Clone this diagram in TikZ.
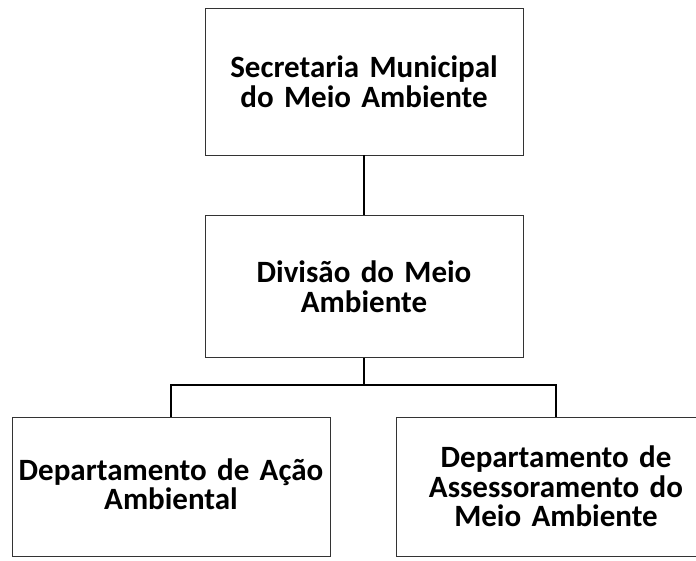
\documentclass[tikz,border=0pt]{standalone}
\usepackage{fontspec}
\setmainfont{Carlito}[WordSpace=0.75]
\usetikzlibrary{positioning}

\begin{document}
\begin{tikzpicture}[x=1pt, y=1pt,
    orgbox/.style={draw=black!80, line width=0.8pt, align=center,
        text width=312pt, minimum width=318pt, inner xsep=3pt,
        font=\bfseries\fontsize{31}{29.5}\selectfont},
    link/.style={line width=2pt}]
\useasboundingbox (0,0) rectangle (696,-561);
\node[orgbox, minimum height=147pt] (sec) at (364,-81.5)
    {Secretaria Municipal\\do Meio Ambiente};
\node[orgbox, minimum height=142pt, below=60pt of sec] (div)
    {Divisão do Meio\\Ambiente};
\node[orgbox, minimum height=139pt] (acao) at (171,-486.5)
    {Departamento de Ação\\Ambiental\vphantom{g}\\[-8pt]};
\node[orgbox, minimum height=139pt, minimum width=320pt] (asses) at (556,-486.5)
    {Departamento de\\Assessoramento do\\Meio Ambiente};
\coordinate (bar) at (364,-385);
% hierarchy links
\draw[link] (sec) -- (div);
\draw[link] (div) -- (bar);
\draw[link] (acao.north) |- (bar) -| (asses.north);
\end{tikzpicture}
\end{document}
